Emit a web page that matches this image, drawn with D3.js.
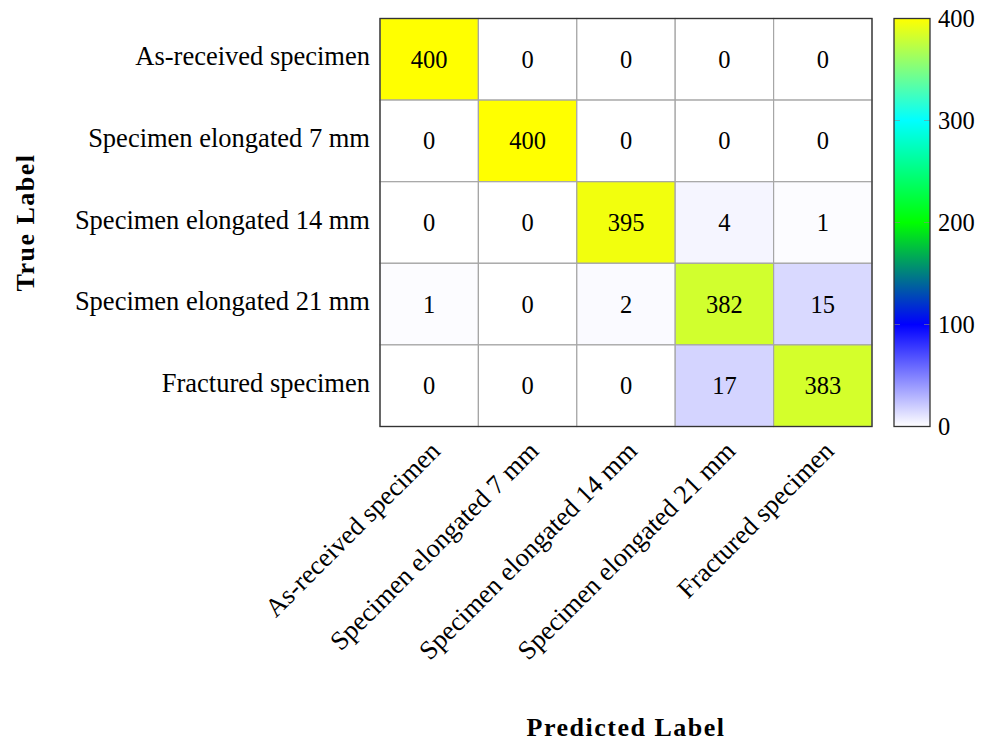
<!DOCTYPE html>
<html>
<head>
<meta charset="utf-8">
<script src="https://cdn.jsdelivr.net/npm/d3@7"></script>
<style>
  html, body { margin: 0; padding: 0; background: #fff; }
  svg { display: block; }
  text { font-family: "Liberation Serif", "Times New Roman", serif; fill: #000; }
</style>
</head>
<body>
<svg id="chart" width="992" height="743"></svg>
<script>
// Confusion matrix: rows = true class, columns = predicted class
const classes = [
  "As-received specimen",
  "Specimen elongated 7 mm",
  "Specimen elongated 14 mm",
  "Specimen elongated 21 mm",
  "Fractured specimen"
];
const counts = [
  [400, 0, 0, 0, 0],
  [0, 400, 0, 0, 0],
  [0, 0, 395, 4, 1],
  [1, 0, 2, 382, 15],
  [0, 0, 0, 17, 383]
];
const colorStops = [0, 100, 200, 300, 400];
const colorValues = ["#ffffff", "#0000ff", "#00ff00", "#00ffff", "#ffff00"];
const colorbarTicks = [0, 100, 200, 300, 400];

const svg = d3.select("#chart");

const plot = { left: 380, top: 18.5, width: 492, height: 408 };
const bar = { left: 894, width: 36 };

const x = d3.scaleBand().domain(d3.range(classes.length)).range([plot.left, plot.left + plot.width]);
const y = d3.scaleBand().domain(d3.range(classes.length)).range([plot.top, plot.top + plot.height]);
const color = d3.scaleLinear().domain(colorStops).range(colorValues).interpolate(d3.interpolateRgb);
const cbScale = d3.scaleLinear().domain([0, 400]).range([plot.top + plot.height, plot.top]);

// cells
const cells = [];
counts.forEach((row, i) => row.forEach((v, j) => cells.push({ i, j, v })));

svg.append("g").selectAll("rect").data(cells).join("rect")
  .attr("x", d => x(d.j))
  .attr("y", d => y(d.i))
  .attr("width", x.bandwidth())
  .attr("height", y.bandwidth())
  .attr("fill", d => color(d.v))
  .attr("stroke", "#a6a6a6")
  .attr("stroke-width", 1.2);

svg.append("g").selectAll("text").data(cells).join("text")
  .attr("x", d => x(d.j) + x.bandwidth() / 2)
  .attr("y", d => y(d.i) + y.bandwidth() / 2 + 8.5)
  .attr("text-anchor", "middle")
  .style("font-size", "24.5px")
  .text(d => d.v);

// frame
svg.append("rect")
  .attr("x", plot.left).attr("y", plot.top)
  .attr("width", plot.width).attr("height", plot.height)
  .attr("fill", "none").attr("stroke", "#333").attr("stroke-width", 1.3);

// y tick labels
svg.append("g").selectAll("text").data(classes).join("text")
  .attr("x", plot.left - 10)
  .attr("y", (d, i) => y(i) + y.bandwidth() / 2 + 6)
  .attr("text-anchor", "end")
  .style("font-size", "26.5px")
  .text(d => d);

// x tick labels, rotated
svg.append("g").selectAll("text").data(classes).join("text")
  .attr("text-anchor", "end")
  .attr("transform", (d, i) => `translate(${x(i) + x.bandwidth() / 2 + 12.5},${plot.top + plot.height + 26}) rotate(-45)`)
  .style("font-size", "26.5px")
  .text(d => d);

// axis titles
svg.append("text")
  .attr("transform", `translate(34,${plot.top + plot.height / 2}) rotate(-90)`)
  .attr("text-anchor", "middle")
  .style("font-size", "26px")
  .style("font-weight", "bold")
  .style("letter-spacing", "1.5px")
  .text("True Label");

svg.append("text")
  .attr("x", plot.left + plot.width / 2)
  .attr("y", 736)
  .attr("text-anchor", "middle")
  .style("font-size", "26px")
  .style("font-weight", "bold")
  .style("letter-spacing", "1.5px")
  .text("Predicted Label");

// colorbar
const defs = svg.append("defs");
const grad = defs.append("linearGradient")
  .attr("id", "cbar").attr("x1", 0).attr("y1", 1).attr("x2", 0).attr("y2", 0);
grad.selectAll("stop").data(colorStops).join("stop")
  .attr("offset", d => d / 400)
  .attr("stop-color", d => color(d));

svg.append("rect")
  .attr("x", bar.left).attr("y", plot.top)
  .attr("width", bar.width).attr("height", plot.height)
  .attr("fill", "url(#cbar)");

const cbTickG = svg.append("g");
colorbarTicks.filter(t => t > 0 && t < 400).forEach(t => {
  cbTickG.append("line")
    .attr("x1", bar.left).attr("x2", bar.left + 6)
    .attr("y1", cbScale(t)).attr("y2", cbScale(t))
    .attr("stroke", "#888").attr("stroke-opacity", 0.6);
  cbTickG.append("line")
    .attr("x1", bar.left + bar.width - 6).attr("x2", bar.left + bar.width)
    .attr("y1", cbScale(t)).attr("y2", cbScale(t))
    .attr("stroke", "#888").attr("stroke-opacity", 0.6);
});

svg.append("rect")
  .attr("x", bar.left).attr("y", plot.top)
  .attr("width", bar.width).attr("height", plot.height)
  .attr("fill", "none").attr("stroke", "#333").attr("stroke-width", 1.3);

svg.append("g").selectAll("text").data(colorbarTicks).join("text")
  .attr("x", bar.left + bar.width + 8)
  .attr("y", d => cbScale(d) + 8.5)
  .style("font-size", "24.5px")
  .text(d => d);
</script>
</body>
</html>
